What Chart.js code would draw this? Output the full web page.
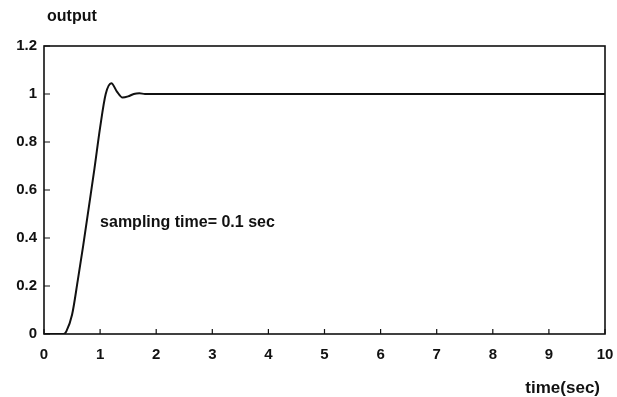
<!DOCTYPE html>
<html>
<head>
<meta charset="utf-8">
<script src="https://cdn.jsdelivr.net/npm/chart.js@4/dist/chart.umd.min.js"></script>
<style>
  html, body { margin: 0; padding: 0; background: #fff; }
  #wrap { width: 617px; height: 397px; }
</style>
</head>
<body>
<div id="wrap"><canvas id="stepChart" width="617" height="397"></canvas></div>
<script>
// step response
var timeSec = [0, 0.1, 0.2, 0.3, 0.35, 0.4, 0.5, 0.6, 0.7, 0.8, 0.9, 1.0, 1.1, 1.2, 1.3, 1.4, 1.5, 1.6, 1.7, 1.8, 2, 3, 4, 5, 6, 7, 8, 9, 10];
var output = [0, 0, 0, 0, 0, 0.012, 0.08, 0.22, 0.37, 0.53, 0.69, 0.86, 1.0, 1.045, 1.01, 0.985, 0.99, 1.0, 1.003, 1.0, 1.0, 1.0, 1.0, 1.0, 1.0, 1.0, 1.0, 1.0, 1.0];
var xTicks = [0, 1, 2, 3, 4, 5, 6, 7, 8, 9, 10];
var yTicks = [0, 0.2, 0.4, 0.6, 0.8, 1, 1.2];

var ink = '#111';
var labelFont = { family: '"Liberation Sans", Arial, sans-serif', size: 15, weight: 'bold' };

var points = timeSec.map(function(t, i) { return { x: t, y: output[i] }; });

// frame, inward tick marks and the loose texts
var decor = {
    id: 'decor',
    afterDraw: function(chart) {
        var c = chart.ctx;
        var a = chart.chartArea;
        var xs = chart.scales.x;
        var ys = chart.scales.y;
        c.save();
        c.strokeStyle = ink;
        c.lineWidth = 1.6;
        c.strokeRect(a.left, a.top, a.right - a.left, a.bottom - a.top);

        c.lineWidth = 1.2;
        c.beginPath();
        xTicks.forEach(function(v) {
            var px = xs.getPixelForValue(v);
            c.moveTo(px, a.bottom);
            c.lineTo(px, a.bottom - 5);
        });
        yTicks.forEach(function(v) {
            var py = ys.getPixelForValue(v);
            c.moveTo(a.left, py);
            c.lineTo(a.left + 6, py);
        });
        c.stroke();

        c.fillStyle = ink;
        c.textBaseline = 'middle';
        c.font = 'bold 16px "Liberation Sans", Arial, sans-serif';
        c.textAlign = 'left';
        c.fillText('output', 47, 17);
        c.fillText('sampling time= 0.1 sec', xs.getPixelForValue(1.0), ys.getPixelForValue(0.465));
        c.font = 'bold 17px "Liberation Sans", Arial, sans-serif';
        c.textAlign = 'right';
        c.fillText('time(sec)', 600, 388);
        c.restore();
    }
};

var ctx = document.getElementById('stepChart').getContext('2d');
var stepChart = new Chart(ctx, {
    type: 'line',
    data: {
        datasets: [{
            data: points,
            borderColor: ink,
            borderWidth: 2,
            pointRadius: 0,
            fill: false,
            cubicInterpolationMode: 'monotone'
        }]
    },
    options: {
        responsive: false,
        animation: false,
        layout: { padding: { left: 0, right: 12, top: 46, bottom: 0 } },
        plugins: {
            legend: { display: false },
            tooltip: { enabled: false }
        },
        scales: {
            x: {
                type: 'linear',
                min: 0,
                max: 10,
                afterFit: function(s) { s.height = 63; s.paddingLeft = 0; s.paddingRight = 0; },
                afterBuildTicks: function(s) { s.ticks = xTicks.map(function(v) { return { value: v }; }); },
                grid: { display: false, drawTicks: false },
                border: { display: false },
                ticks: { color: ink, font: labelFont, padding: 12, maxRotation: 0 }
            },
            y: {
                min: 0,
                max: 1.2,
                afterFit: function(s) { s.width = 44; s.paddingTop = 0; s.paddingBottom = 0; },
                afterBuildTicks: function(s) { s.ticks = yTicks.map(function(v) { return { value: v }; }); },
                grid: { display: false, drawTicks: false },
                border: { display: false },
                ticks: {
                    color: ink,
                    font: labelFont,
                    padding: 7,
                    callback: function(v) { return String(Math.round(v * 10) / 10); }
                }
            }
        }
    },
    plugins: [decor]
});
</script>
</body>
</html>
